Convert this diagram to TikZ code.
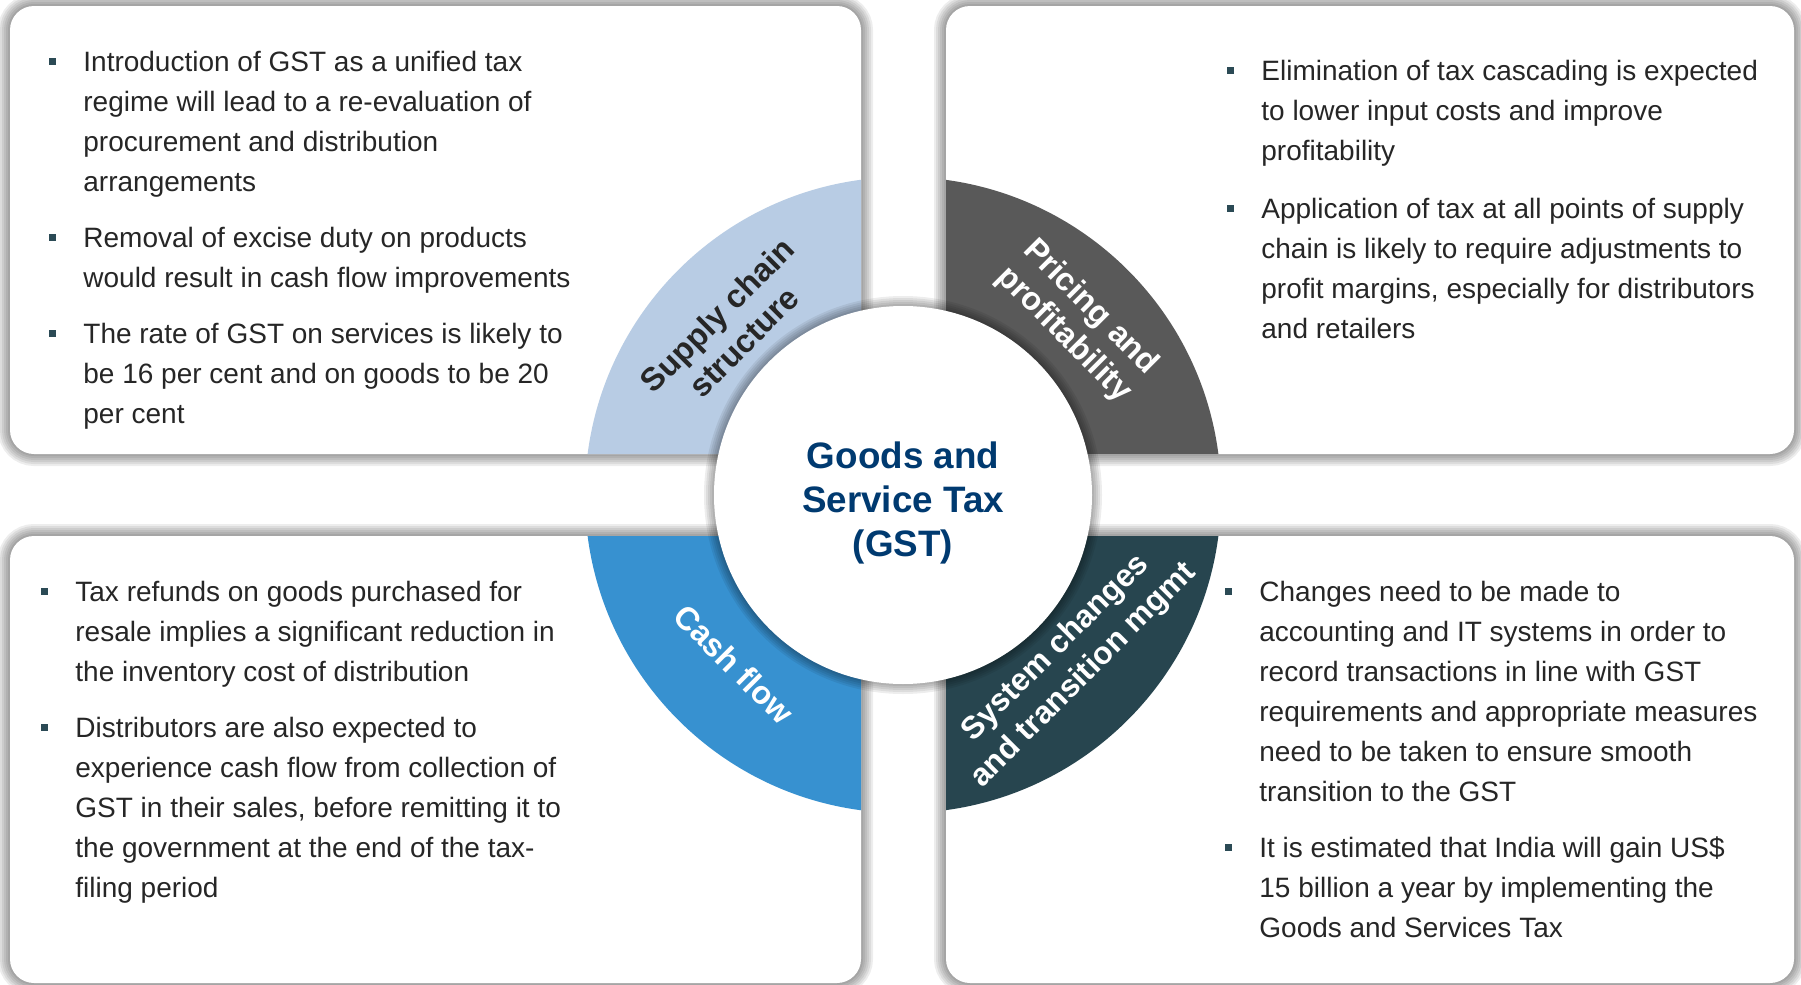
\documentclass[tikz,border=0pt]{standalone}
\usepackage{fontspec}
\setmainfont{Liberation Sans}
\usetikzlibrary{positioning}
\definecolor{ringA}{RGB}{184,204,228}
\definecolor{ringB}{RGB}{89,89,89}
\definecolor{ringC}{RGB}{55,145,208}
\definecolor{ringD}{RGB}{39,69,79}
\definecolor{titleblue}{RGB}{0,58,112}
\definecolor{bodytext}{RGB}{38,38,38}
\definecolor{bulletcol}{RGB}{43,74,85}
\newcommand{\sq}{\raisebox{3.25pt}{\textcolor{bulletcol}{\rule{3.5pt}{3.5pt}}}}
\tikzset {
    x=0.5pt, y=0.5pt,
    panel/.style={rounded corners=12pt},
    glow/.style={black, opacity=0.07, line width=#1},
    bullets/.style={anchor=north west, inner sep=0pt, text=bodytext, font=\fontsize{14}{20}\selectfont},
    seglabel/.style={align=center, inner sep=0pt, text=white, font=\fontsize{16.2}{19}\selectfont\bfseries},
    hub/.style={circle, fill=white, minimum size=189pt, inner sep=0pt},
    title/.style={align=center, inner sep=0pt, text=titleblue, font=\fontsize{18.4}{22}\selectfont\bfseries}
}

\begin{document}
\begin{tikzpicture}
    \useasboundingbox (0,0) rectangle (1801,-985);
    \coordinate (c) at (903,-495);

    % four panels, each with its quarter of the ring
    \foreach \xa/\ya/\xb/\yb/\col in {10/-6/861/-454/ringA, 946/-6/1794/-454/ringB,
                                      10/-536/861/-983/ringC, 946/-536/1794/-983/ringD} {
        \foreach \w in {2,4,...,12}
            \draw[panel, glow=\w pt] (\xa,\ya) rectangle (\xb,\yb);
        \fill[panel, white] (\xa,\ya) rectangle (\xb,\yb);
        \begin{scope}
            \clip[panel] (\xa,\ya) rectangle (\xb,\yb);
            \fill[\col] (c) circle[radius=318];
        \end{scope}
    }

    % hub
    \foreach \w in {2,4,...,10}
        \draw[glow=\w pt] (c) circle[radius=189];
    \node[hub] (gst) at (c) {};
    \node[title] (gsttext) at ([yshift=-3.75pt]gst.center) {Goods and\\Service Tax\\(GST)};

    \node[seglabel, text=bodytext, rotate=45] (supply) at ([shift={(136:240)}]gst.center) {Supply chain\\structure};
    \node[seglabel, rotate=-45] (pricing) at ([shift={(45:246)}]gst.center) {Pricing and\\profitability};
    \node[seglabel, rotate=-45] (cash) at ([shift={(225:239)}]gst.center) {Cash flow};
    \node[seglabel, font=\fontsize{15.8}{19.5}\selectfont\bfseries, rotate=45] (system) at ([shift={(-45:236)}]gst.center) {System changes\\and transition mgmt};

    \node[bullets] (supplytxt) at (49,-42.7) {\begin{tabular}{@{}p{17pt}@{}l@{}}
        \sq & Introduction of GST as a unified tax\\
            & regime will lead to a re-evaluation of\\
            & procurement and distribution\\
            & arrangements\\[8pt]
        \sq & Removal of excise duty on products\\
            & would result in cash flow improvements\\[8pt]
        \sq & The rate of GST on services is likely to\\
            & be 16 per cent and on goods to be 20\\
            & per cent
    \end{tabular}};
    \node[bullets] (pricingtxt) at (1227,-52) {\begin{tabular}{@{}p{17pt}@{}l@{}}
        \sq & Elimination of tax cascading is expected\\
            & to lower input costs and improve\\
            & profitability\\[9pt]
        \sq & Application of tax at all points of supply\\
            & chain is likely to require adjustments to\\
            & profit margins, especially for distributors\\
            & and retailers
    \end{tabular}};
    \node[bullets] (cashtxt) at (41,-573) {\begin{tabular}{@{}p{17pt}@{}l@{}}
        \sq & Tax refunds on goods purchased for\\
            & resale implies a significant reduction in\\
            & the inventory cost of distribution\\[8pt]
        \sq & Distributors are also expected to\\
            & experience cash flow from collection of\\
            & GST in their sales, before remitting it to\\
            & the government at the end of the tax-\\
            & filing period
    \end{tabular}};
    \node[bullets] (systemtxt) at (1225,-573) {\begin{tabular}{@{}p{17pt}@{}l@{}}
        \sq & Changes need to be made to\\
            & accounting and IT systems in order to\\
            & record transactions in line with GST\\
            & requirements and appropriate measures\\
            & need to be taken to ensure smooth\\
            & transition to the GST\\[8pt]
        \sq & It is estimated that India will gain US\$\\
            & 15 billion a year by implementing the\\
            & Goods and Services Tax
    \end{tabular}};
\end{tikzpicture}
\end{document}
